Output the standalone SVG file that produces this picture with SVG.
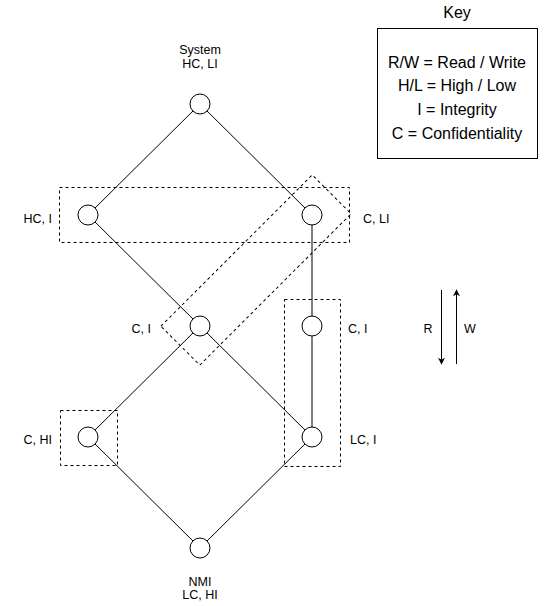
<svg xmlns="http://www.w3.org/2000/svg" width="544" height="606" viewBox="0 0 544 606">
<style>
text{font-family:"Liberation Sans",Arial,Helvetica,sans-serif;fill:#000;}
.lbl{font-size:12.5px;}
.key{font-size:16px;}
.edge{stroke:#000;stroke-width:1;fill:none;}
.dash{stroke:#000;stroke-width:1;fill:none;stroke-dasharray:3 3;}
.node{fill:#fff;stroke:#000;stroke-width:1;}
</style>
<defs>
<marker id="ah" viewBox="0 0 10 10" refX="9" refY="5" markerWidth="7" markerHeight="7" orient="auto" markerUnits="userSpaceOnUse">
<path d="M0,0 L10,5 L0,10 L3,5 Z" fill="#000"/>
</marker>
</defs>
<rect width="544" height="606" fill="#fff"/>
<g id="groups">
<rect class="dash" x="59.5" y="187.5" width="290" height="55"/>
<rect class="dash" x="-107" y="-27.5" width="214" height="55" transform="translate(256,270) rotate(-45)"/>
<rect class="dash" x="284.5" y="299.5" width="56" height="167"/>
<rect class="dash" x="60.5" y="410.5" width="57" height="55"/>
</g>
<g id="connectors">
<line class="edge" x1="200" y1="104" x2="88" y2="215"/>
<line class="edge" x1="200" y1="104" x2="312" y2="215"/>
<line class="edge" x1="88" y1="215" x2="200" y2="326"/>
<line class="edge" x1="312" y1="215" x2="312" y2="326"/>
<line class="edge" x1="312" y1="326" x2="312" y2="437"/>
<line class="edge" x1="200" y1="326" x2="88" y2="437"/>
<line class="edge" x1="200" y1="326" x2="312" y2="437"/>
<line class="edge" x1="88" y1="437" x2="200" y2="548"/>
<line class="edge" x1="312" y1="437" x2="200" y2="548"/>
<line class="edge" x1="441.5" y1="290" x2="441.5" y2="364" marker-end="url(#ah)"/>
<line class="edge" x1="456.5" y1="364" x2="456.5" y2="290" marker-end="url(#ah)"/>
</g>
<g id="n-system">
<circle class="node" cx="200" cy="104" r="10"/>
<text class="lbl" x="200" y="54" text-anchor="middle">System</text>
<text class="lbl" x="200" y="68" text-anchor="middle">HC, LI</text>
</g>
<g id="n-hci">
<circle class="node" cx="88" cy="215" r="10"/>
<text class="lbl" x="52" y="223" text-anchor="end">HC, I</text>
</g>
<g id="n-cli">
<circle class="node" cx="312" cy="215" r="10"/>
<text class="lbl" x="363" y="223">C, LI</text>
</g>
<g id="n-ci-left">
<circle class="node" cx="200" cy="326" r="10"/>
<text class="lbl" x="151" y="333" text-anchor="end">C, I</text>
</g>
<g id="n-ci-right">
<circle class="node" cx="312" cy="326" r="10"/>
<text class="lbl" x="348" y="333">C, I</text>
</g>
<g id="n-chi">
<circle class="node" cx="88" cy="437" r="10"/>
<text class="lbl" x="52" y="444" text-anchor="end">C, HI</text>
</g>
<g id="n-lci">
<circle class="node" cx="312" cy="437" r="10"/>
<text class="lbl" x="350" y="444">LC, I</text>
</g>
<g id="n-nmi">
<circle class="node" cx="200" cy="548" r="10"/>
<text class="lbl" x="200" y="586" text-anchor="middle">NMI</text>
<text class="lbl" x="200" y="599" text-anchor="middle">LC, HI</text>
</g>
<g id="rw-labels">
<text class="lbl" x="428" y="333" text-anchor="middle">R</text>
<text class="lbl" x="470" y="333" text-anchor="middle">W</text>
</g>
<g id="key">
<text class="key" x="457" y="18" text-anchor="middle">Key</text>
<rect x="377.5" y="28.5" width="160" height="130" fill="#fff" stroke="#000" stroke-width="1"/>
<text class="key" x="457" y="68" text-anchor="middle">R/W = Read / Write</text>
<text class="key" x="457" y="91" text-anchor="middle">H/L = High / Low</text>
<text class="key" x="457" y="115" text-anchor="middle">I = Integrity</text>
<text class="key" x="457" y="139" text-anchor="middle">C = Confidentiality</text>
</g>
</svg>
